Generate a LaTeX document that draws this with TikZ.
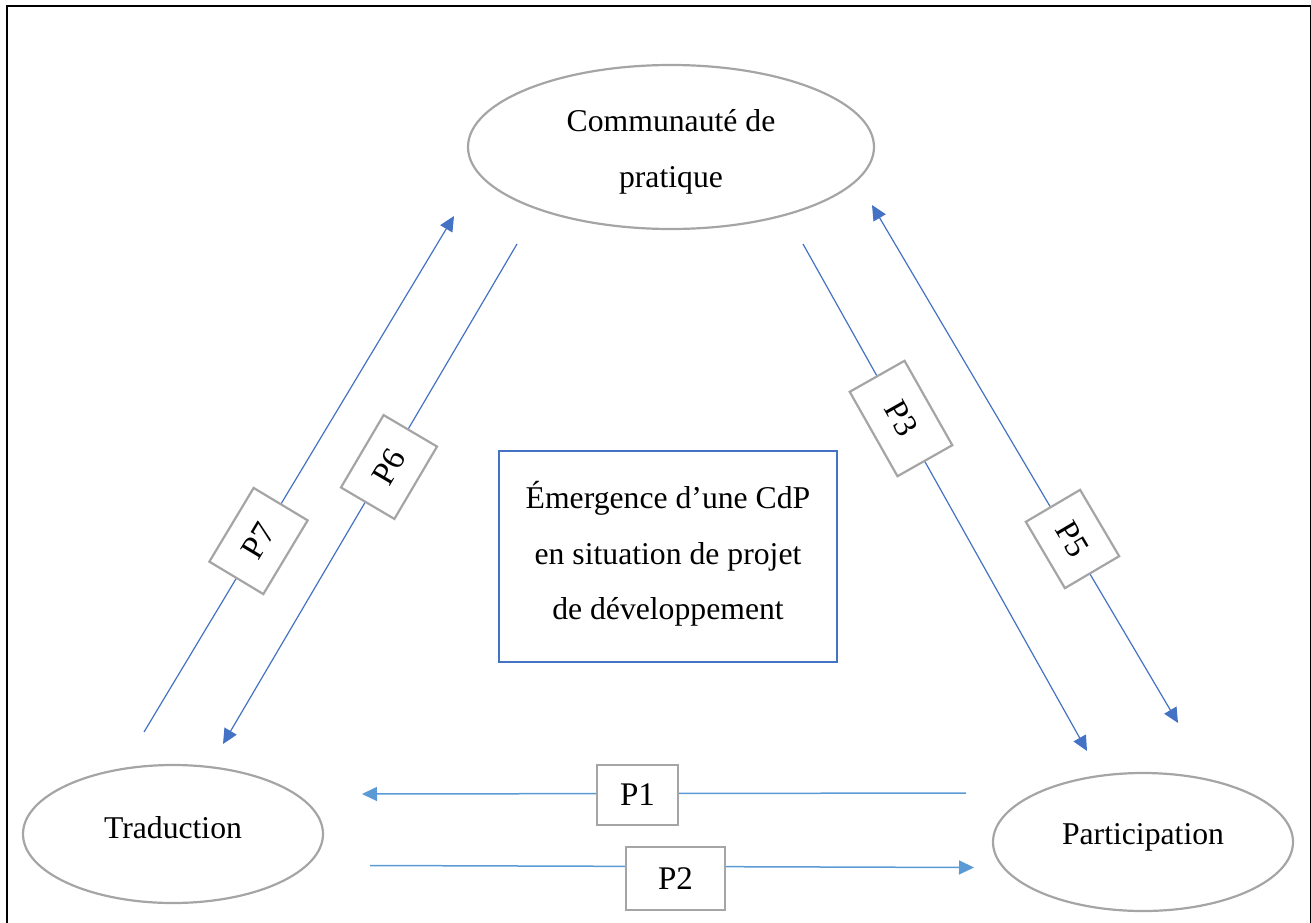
\documentclass[tikz,border=0pt]{standalone}
\usepackage{fontspec}
\setmainfont{Liberation Serif}
\usetikzlibrary{arrows.meta,shapes.geometric}
\definecolor{diagblue}{HTML}{4472C4}
\definecolor{lightblue}{HTML}{5B9BD5}
\definecolor{boxgrey}{HTML}{A5A5A5}
\tikzset{
  txt/.style={font=\fontsize{31.7}{56}\selectfont, align=center},
  oval/.style={ellipse, draw=boxgrey, line width=2.2pt, inner sep=0pt, txt},
  lbl/.style={rectangle, draw=boxgrey, fill=white, line width=2.2pt, inner sep=0pt, align=center, font=\fontsize{33}{40}\selectfont},
  diag/.style={draw=diagblue, line width=1.2pt, -{Triangle[length=15pt,width=14pt]}},
  diagboth/.style={draw=diagblue, line width=1.2pt, {Triangle[length=15pt,width=14pt]}-{Triangle[length=15pt,width=14pt]}},
  horiz/.style={draw=lightblue, line width=1.5pt, -{Triangle[length=15pt,width=14pt]}},
  centre/.style={rectangle, draw=diagblue, line width=2.2pt, inner sep=0pt, align=center, font=\fontsize{31.7}{55.5}\selectfont}
}
\begin{document}
\begin{tikzpicture}[x=1pt,y=-1pt]
\useasboundingbox (0,0) rectangle (1311,923);
\draw[black, line width=2.2pt] (7,940) -- (7,6) -- (1311.5,6) -- (1311.5,940);

% ellipses
\node[oval, minimum width=406pt, minimum height=164pt] (cdp) at (671,147) {\raisebox{-1pt}[\height][\depth]{\begin{tabular}{@{}c@{}}Communaut\'e de\\pratique\end{tabular}}};
\node[oval, minimum width=300pt, minimum height=138pt] (trad) at (173,834) {\raisebox{6pt}[\height][\depth]{Traduction}};
\node[oval, minimum width=300pt, minimum height=138pt] (part) at (1143,842) {\raisebox{5pt}[\height][\depth]{Participation}};

% centre box
\node[centre, minimum width=338pt, minimum height=211pt] (emerg) at (668,556.5) {\raisebox{3.5pt}[\height][\depth]{\begin{tabular}{@{}c@{}}\'Emergence d’une CdP\\en situation de projet\\de d\'eveloppement\end{tabular}}};

% connector ends
\coordinate (p7s) at (144,732);
\coordinate (p7e) at (454,216);
\coordinate (p6s) at (517,244);
\coordinate (p6e) at (223,744);
\coordinate (p3s) at (803,244);
\coordinate (p3e) at (1087,751);
\coordinate (p5a) at (872,205);
\coordinate (p5b) at (1178,723);
\coordinate (p1s) at (966,793);
\coordinate (p1e) at (362,794);
\coordinate (p2s) at (370,865.5);
\coordinate (p2e) at (974,867.5);

\draw[diag] (p7s) -- (p7e);
\draw[diag] (p6s) -- (p6e);
\draw[diag] (p3s) -- (p3e);
\draw[diagboth] (p5a) -- (p5b);
\draw[horiz] (p1s) -- (p1e);
\draw[horiz] (p2s) -- (p2e);

% labels
\node[lbl, rotate=59, minimum width=86pt, minimum height=63pt] (l7) at (258.5,541) {P7};
\node[lbl, rotate=59.5, minimum width=84pt, minimum height=62pt] (l6) at (389,467) {P6};
\node[lbl, rotate=-60.5, minimum width=97pt, minimum height=63pt] (l3) at (901,418.5) {P3};
\node[lbl, rotate=-59.5, minimum width=77pt, minimum height=63pt] (l5) at (1072.5,539) {P5};
\node[lbl, minimum width=81pt, minimum height=60pt] (l1) at (637.5,795) {P1};
\node[lbl, minimum width=99pt, minimum height=63pt] (l2) at (675.5,878.5) {P2};
\end{tikzpicture}
\end{document}
